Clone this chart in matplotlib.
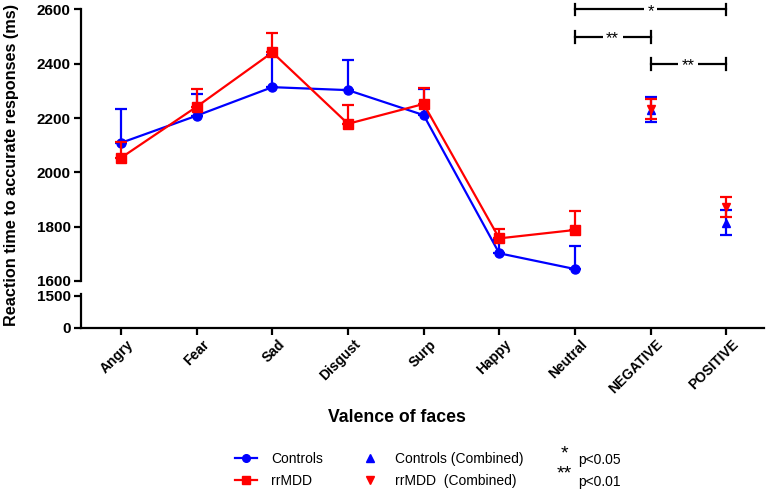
import matplotlib
matplotlib.use("Agg")
import matplotlib.pyplot as plt
from matplotlib.lines import Line2D
from matplotlib.transforms import ScaledTranslation

plt.rcParams['font.family'] = ['Liberation Sans', 'DejaVu Sans']

categories = ['Angry', 'Fear', 'Sad', 'Disgust', 'Surp', 'Happy', 'Neutral', 'NEGATIVE', 'POSITIVE']
ctrl_mean = [2109, 2209, 2314, 2303, 2211, 1702, 1644]
ctrl_sem = [123, 80, 120, 112, 96, 50, 85]
mdd_mean = [2054, 2242, 2442, 2179, 2252, 1757, 1788]
mdd_sem = [58, 64, 70, 69, 60, 35, 70]
ctrl_comb_mean = [2230, 1815]
ctrl_comb_sem = [46, 45]
mdd_comb_mean = [2232, 1872]
mdd_comb_sem = [37, 38]
brackets = [(6, 8, 2600, '*'), (6, 7, 2500, '**'), (7, 8, 2400, '**')]
upper_ticks = [1600, 1800, 2000, 2200, 2400, 2600]
lower_ticks = [0, 1500]

BLUE = '#0000FF'
RED = '#FF0000'

fig = plt.figure(figsize=(7.67, 4.93), dpi=100)
L, R = 81 / 767, 764 / 767
H = 493
ax = fig.add_axes([L, 1 - 281 / H, R - L, (281 - 9.5) / H])
axb = fig.add_axes([L, 1 - 327.5 / H, R - L, (327.5 - 293.5) / H])

n_ind = len(ctrl_mean)
xi = list(range(n_ind))
xc = list(range(n_ind, len(categories)))

ax.errorbar(xi, ctrl_mean, yerr=[[0] * n_ind, ctrl_sem], color=BLUE, lw=1.6,
            marker='o', ms=6.5, capsize=4, capthick=1.6, elinewidth=1.6, zorder=3)
ax.errorbar(xi, mdd_mean, yerr=[[0] * n_ind, mdd_sem], color=RED, lw=1.6,
            marker='s', ms=6.5, capsize=4, capthick=1.6, elinewidth=1.6, zorder=4)
ax.errorbar(xc, ctrl_comb_mean, yerr=ctrl_comb_sem, color=BLUE, ls='none',
            marker='^', ms=5.5, capsize=4, capthick=1.6, elinewidth=1.6, zorder=3)
ax.errorbar(xc, mdd_comb_mean, yerr=mdd_comb_sem, color=RED, ls='none',
            marker='v', ms=5.5, capsize=4, capthick=1.6, elinewidth=1.6, zorder=4)

for x1, x2, y, lab in brackets:
    ax.plot([x1, x2], [y, y], color='black', lw=1.6, clip_on=False, zorder=5)
    for xx in (x1, x2):
        ax.plot([xx, xx], [y - 22, y + 22], color='black', lw=1.6, clip_on=False, zorder=5)
    ax.text((x1 + x2) / 2, y - 8, lab, ha='center', va='center', fontsize=12,
            bbox=dict(facecolor='white', edgecolor='none', pad=2.5), zorder=6, clip_on=False)

xlim = (-0.53, 8.5)
for a in (ax, axb):
    a.set_xlim(*xlim)
    a.spines['top'].set_visible(False)
    a.spines['right'].set_visible(False)
    a.spines['left'].set_linewidth(1.6)
    a.tick_params(axis='y', width=1.6, length=5, labelsize=11, pad=2.5)

ax.set_ylim(1600, 2600)
ax.set_yticks(upper_ticks)
ax.set_yticklabels([str(t) for t in upper_ticks], fontweight='bold', fontsize=11)
ax.spines['bottom'].set_visible(False)
ax.set_xticks([])

axb.set_ylim(0, 1600)
axb.set_yticks(lower_ticks)
axb.set_yticklabels([str(t) for t in lower_ticks], fontweight='bold', fontsize=11)
axb.spines['bottom'].set_linewidth(1.6)
axb.set_xticks(range(len(categories)))
axb.set_xticklabels(categories, rotation=45, ha='right', rotation_mode='anchor',
                    fontweight='bold', fontsize=10)
axb.tick_params(axis='x', width=1.6, length=5)
off = ScaledTranslation(5 / 100, 2 / 100, fig.dpi_scale_trans)
for t in axb.get_xticklabels():
    t.set_transform(t.get_transform() + off)

fig.text(0.015, 1 - 165 / H, 'Reaction time to accurate responses (ms)', rotation=90,
         ha='center', va='center', fontweight='bold', fontsize=11.7)
fig.text(397 / 767, 1 - 418 / H, 'Valence of faces', ha='center', va='center',
         fontweight='bold', fontsize=12.7)

handles = [
    Line2D([], [], color=BLUE, lw=1.6, marker='o', ms=5.5),
    Line2D([], [], color=RED, lw=1.6, marker='s', ms=5.5),
    Line2D([], [], color=BLUE, ls='none', marker='^', ms=5.5),
    Line2D([], [], color=RED, ls='none', marker='v', ms=5.5),
]
labels = ['Controls', 'rrMDD', 'Controls (Combined)', 'rrMDD  (Combined)']
fig.legend(handles, labels, ncol=2, frameon=False, loc='center left',
           bbox_to_anchor=(225 / 767, 1 - 470 / H), fontsize=10,
           handlelength=1.6, handletextpad=1.0, columnspacing=2.6, labelspacing=0.6,
           borderpad=0.2)

fig.text(561 / 767, 1 - 454 / H, '*', fontsize=14, ha='left', va='center')
fig.text(578 / 767, 1 - 460 / H, 'p<0.05', fontsize=10, ha='left', va='center')
fig.text(557 / 767, 1 - 474 / H, '**', fontsize=14, ha='left', va='center')
fig.text(578 / 767, 1 - 482 / H, 'p<0.01', fontsize=10, ha='left', va='center')

fig.savefig('out.png', dpi=100)
